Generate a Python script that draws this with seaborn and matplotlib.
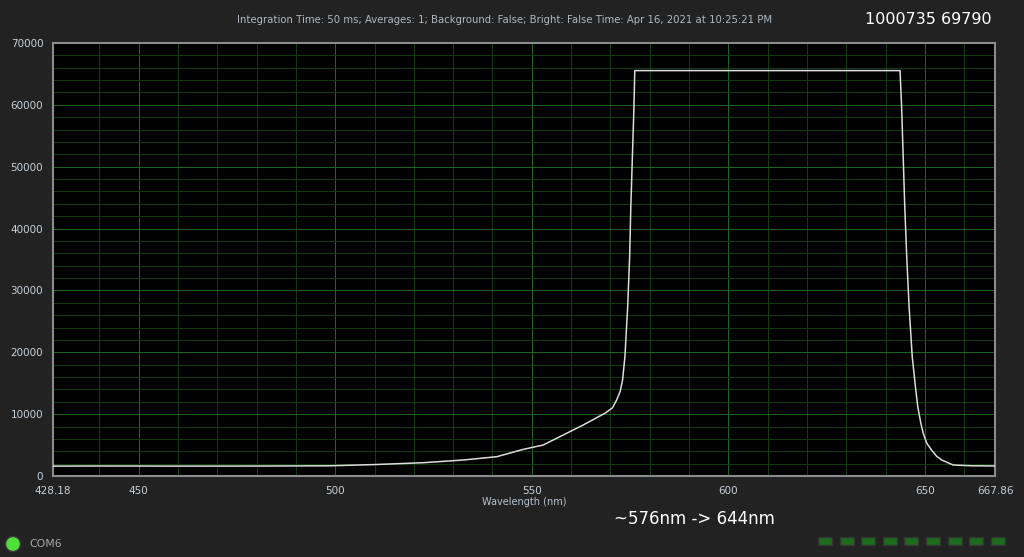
import numpy as np
import pandas as pd
import seaborn as sns
import matplotlib.pyplot as plt
from matplotlib.patches import Rectangle, Ellipse

# spectrum (wavelength nm, counts)
wavelength = [428.18, 440, 460, 480, 498.6, 510, 522.4, 532.6, 541.1, 547.8,
              552.9, 558.0, 563.1, 568.6, 570.5, 571.6, 572.5, 573.1, 573.7,
              574.4, 574.9, 575.2, 575.6, 576.0, 576.2, 600.0, 643.7, 644.1,
              644.5, 644.9, 645.4, 646.0, 646.8, 647.6, 648.2, 649.0, 649.6,
              650.5, 651.7, 653.0, 654.3, 657.2, 662.0, 667.86]
counts = [1600, 1620, 1600, 1610, 1650, 1850, 2150, 2590, 3120, 4300,
          5010, 6630, 8250, 10140, 11000, 12290, 13700, 15520, 19300, 27400,
          35460, 43550, 51630, 59700, 65535, 65535, 65535, 59700, 51630,
          43550, 35460, 27400, 19300, 14500, 11200, 8500, 6900, 5300, 4200,
          3200, 2590, 1780, 1650, 1620]

x_ticks = [428.18, 450, 500, 550, 600, 650, 667.86]
x_labels = ["428.18", "450", "500", "550", "600", "650", "667.86"]
y_ticks = [0, 10000, 20000, 30000, 40000, 50000, 60000, 70000]

header = ("Integration Time: 50 ms; Averages: 1; Background: False; "
          "Bright: False Time: Apr 16, 2021 at 10:25:21 PM")
serial = "1000735 69790"
note = "~576nm -> 644nm"

df = pd.DataFrame({"wl": wavelength, "counts": counts})

sns.set_style("dark")
plt.rcParams['font.family'] = ['DejaVu Sans']
plt.rcParams['axes.grid'] = False

bg = "#222222"
fig = plt.figure(figsize=(10.24, 5.57), dpi=100, facecolor=bg)
ax = fig.add_axes([53 / 1024, 1 - 476 / 557, 942 / 1024, 433 / 557])
ax.set_facecolor("black")

# grid: minor every 10 nm / 2000 counts, major every 50 nm / 10000 counts
major_c, minor_c = "#216321", "#123a12"
for v in np.arange(440, 668, 10):
    ax.axvline(v, color=major_c if v % 50 == 0 else minor_c, lw=0.72,
               antialiased=False, zorder=0)
for v in np.arange(2000, 70000, 2000):
    ax.axhline(v, color=major_c if v % 10000 == 0 else minor_c, lw=0.72,
               antialiased=False, zorder=0)

sns.lineplot(data=df, x="wl", y="counts", ax=ax, color="#dcdcdc", lw=1.1,
             zorder=3)

ax.set_xlim(428.18, 667.86)
ax.set_ylim(0, 70000)
ax.set_xticks(x_ticks)
ax.set_xticklabels(x_labels)
ax.set_yticks(y_ticks)
ax.set_yticklabels([str(v) for v in y_ticks])
ax.set_xlabel("Wavelength (nm)", color="#b8c4d0", fontsize=7, labelpad=1)
ax.set_ylabel("")
ax.tick_params(labelsize=7.5, length=5, width=1.2, direction="out", pad=2,
               colors="#a0a0a0", labelcolor="#c8d0d8")
ax.grid(False)
for s in ax.spines.values():
    s.set_color("#8c8c8c")
    s.set_linewidth(1.5)
    s.set_visible(True)

fig.text(505 / 1024, 1 - 20 / 557, header, color="#b0b8c0", fontsize=7.3,
         ha="center", va="center")
fig.text(928 / 1024, 1 - 20 / 557, serial, color="white", fontsize=11.5,
         ha="center", va="center")
fig.text(694 / 1024, 1 - 519 / 557, note, color="white", fontsize=12,
         ha="center", va="center")
fig.text(29 / 1024, 1 - 544 / 557, "COM6", color="#a8a8a8", fontsize=7.8,
         ha="left", va="center")

# status LED and indicator squares
fig.patches.append(Ellipse((13 / 1024, 1 - 544 / 557), 15 / 1024, 15 / 557,
                           transform=fig.transFigure, facecolor="#4fe03a",
                           edgecolor="#3a3a3a", lw=1.0))
for i in range(9):
    x0 = (818 + i * 21.6) / 1024
    fig.patches.append(Rectangle((x0, 1 - 545 / 557), 14 / 1024, 8 / 557,
                                 transform=fig.transFigure,
                                 facecolor="#1d6b1d", edgecolor="#333333",
                                 lw=1.0))

fig.savefig("out.png", dpi=100, facecolor=bg)
